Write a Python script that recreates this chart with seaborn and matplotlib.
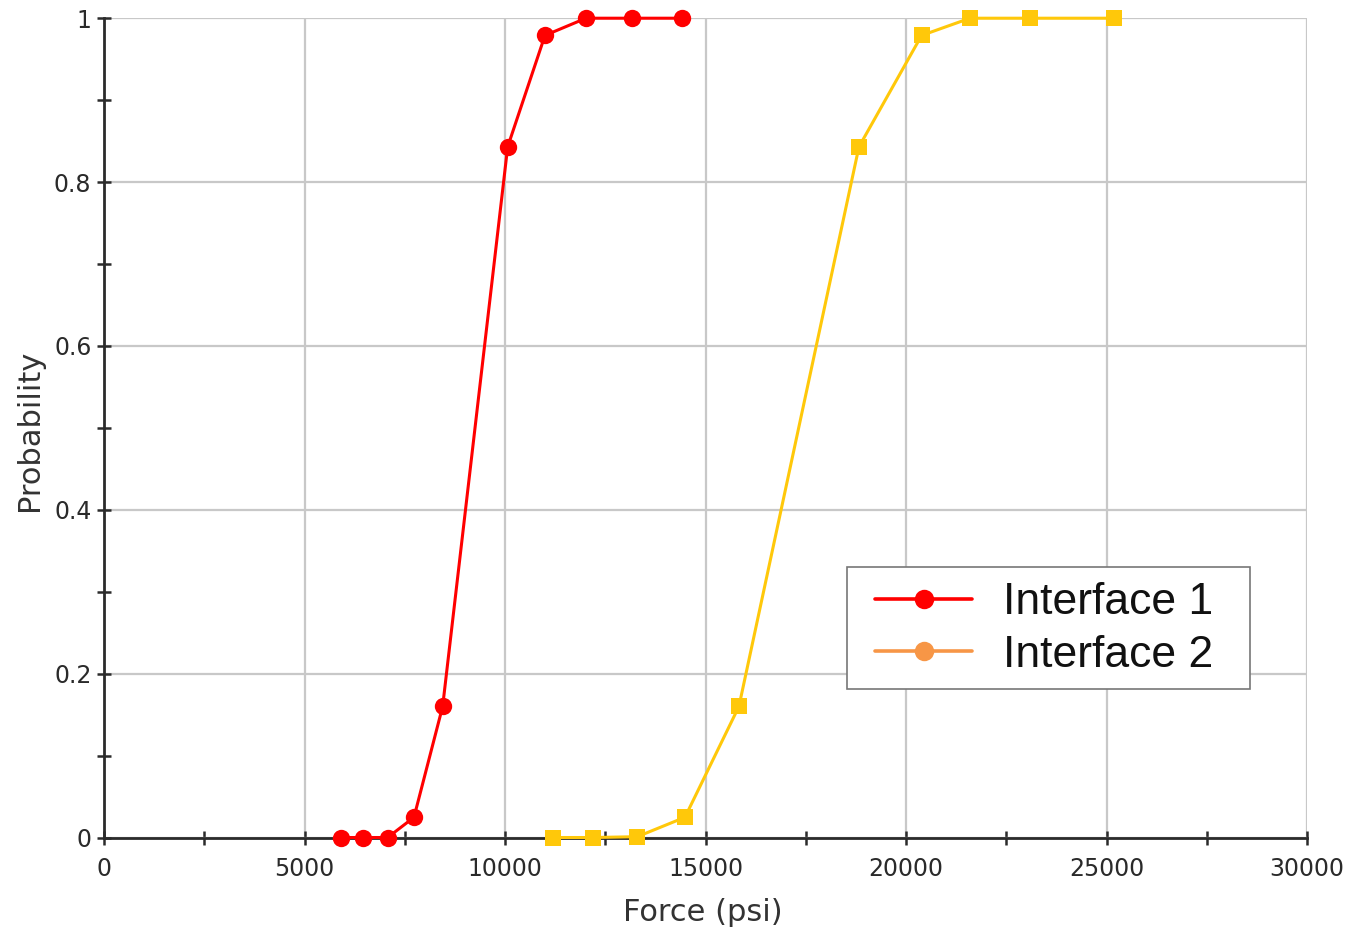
import matplotlib
matplotlib.use("Agg")
import matplotlib.pyplot as plt
import seaborn as sns
import pandas as pd
from matplotlib.lines import Line2D
from matplotlib.patches import Rectangle
from matplotlib.ticker import MultipleLocator, FuncFormatter

# Failure probability vs applied force for two interfaces
force_if1 = [5901, 6465, 7073, 7729, 8444, 10065, 10995, 12017, 13156, 14403]
prob_if1 = [0.0, 0.0, 0.0, 0.0247, 0.160, 0.843, 0.979, 1.0, 1.0, 1.0]

force_if2 = [11202, 12199, 13296, 14485, 15831, 18823, 20386, 21591, 23087, 25188]
prob_if2 = [0.0, 0.0, 0.001, 0.0247, 0.160, 0.843, 0.979, 1.0, 1.0, 1.0]

series_names = ["Interface 1", "Interface 2"]

sns.set_theme(style="white")
plt.rcParams["font.family"] = ["DejaVu Sans"]

fig = plt.figure(figsize=(13.52, 9.34), dpi=100)
ax = fig.add_axes([0.0769, 0.1033, 0.8900, 0.8772])

df1 = pd.DataFrame({"force": force_if1, "prob": prob_if1})
df2 = pd.DataFrame({"force": force_if2, "prob": prob_if2})

red = "#FF0000"
yellow = "#FFC80A"
orange = "#F79646"

sns.lineplot(data=df1, x="force", y="prob", ax=ax, color=red, linewidth=2.2,
             marker="o", markersize=12.5, markeredgewidth=0, clip_on=False, zorder=5)
sns.lineplot(data=df2, x="force", y="prob", ax=ax, color=yellow, linewidth=2.2,
             marker="s", markersize=11.5, markeredgewidth=0, clip_on=False, zorder=5)

ax.set_xlim(0, 30000)
ax.set_ylim(0, 1)

ax.xaxis.set_major_locator(MultipleLocator(5000))
ax.xaxis.set_minor_locator(MultipleLocator(2500))
ax.yaxis.set_major_locator(MultipleLocator(0.2))
ax.yaxis.set_minor_locator(MultipleLocator(0.1))
ax.yaxis.set_major_formatter(FuncFormatter(lambda v, p: "0" if abs(v) < 1e-9 else ("1" if abs(v - 1) < 1e-9 else f"{v:.1f}")))
ax.xaxis.set_major_formatter(FuncFormatter(lambda v, p: f"{int(round(v))}"))

ax.grid(True, which="major", color="#C8C8C8", linewidth=1.6)
ax.set_axisbelow(True)

for side in ["top", "right"]:
    ax.spines[side].set_visible(False)
for side in ["left", "bottom"]:
    ax.spines[side].set_color("#2b2b2b")
    ax.spines[side].set_linewidth(2.0)

ax.tick_params(axis="both", which="major", direction="inout", length=10, width=1.8,
               color="#2b2b2b", labelsize=17, labelcolor="#2a2a2a", pad=4)
ax.tick_params(axis="x", which="major", pad=9)
ax.tick_params(axis="both", which="minor", direction="inout", length=10, width=1.8,
               color="#2b2b2b")
ax.tick_params(axis="x", which="both", bottom=True)
ax.tick_params(axis="y", which="both", left=True)

ax.set_xlabel("Force (psi)", fontsize=22, color="#333333", va="center", ha="center")
ax.set_ylabel("Probability", fontsize=22, color="#333333", va="center", ha="center")
ax.xaxis.set_label_coords(0.498, -0.091)
ax.yaxis.set_label_coords(-0.062, 0.497)

# legend frame drawn as its own box so the padding can be set per side
ax.add_patch(Rectangle((0.6176, 0.1812), 0.3350, 0.1489, transform=ax.transAxes,
                       facecolor="white", edgecolor="#777777", linewidth=1.2,
                       zorder=8, clip_on=False))

handles = [
    Line2D([0], [0], color=red, linewidth=2.6, marker="o", markersize=14, markeredgewidth=0),
    Line2D([0], [0], color=orange, linewidth=2.6, marker="o", markersize=14, markeredgewidth=0),
]
leg = ax.legend(handles, series_names, loc="center left", bbox_to_anchor=(0.641, 0.2545),
                frameon=False, handlelength=2.18,
                handletextpad=0.7, borderpad=0.0, labelspacing=0.25, borderaxespad=0,
                prop={"family": "Liberation Sans", "size": 32})
for txt in leg.get_texts():
    txt.set_color("#111111")
leg.set_zorder(9)

fig.savefig("out.png", dpi=100, facecolor="white")
